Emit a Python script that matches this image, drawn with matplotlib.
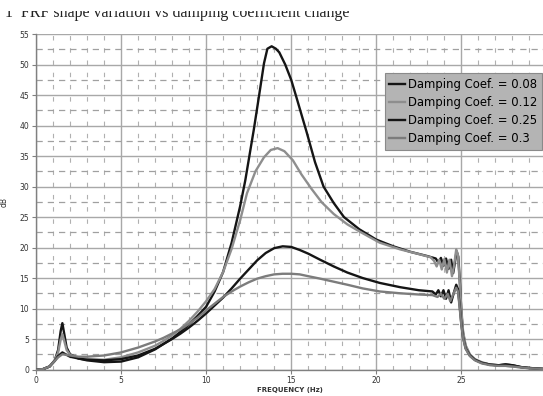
import matplotlib
matplotlib.use('agg')
import matplotlib.pyplot as plt
from matplotlib.patches import Rectangle
from matplotlib.ticker import MultipleLocator

# FRF data #############################################################

freq_008 = [0, 0.4, 0.8, 1.1, 1.3, 1.45, 1.55, 1.65, 1.8, 2.0, 2.5, 3, 4, 5, 6, 7, 7.5, 8,
            8.5, 9, 9.5, 10, 10.5, 11, 11.5, 12, 12.3, 12.8, 13.1, 13.4, 13.6, 13.85, 14.1,
            14.3, 14.65, 15.0, 15.3, 15.9, 16.4, 16.9, 17.5, 18.1, 19, 20, 21, 22, 23, 23.5,
            23.65, 23.8, 23.95, 24.1, 24.25, 24.4, 24.52, 24.62, 24.72, 24.82, 24.92, 25.0,
            25.1, 25.25, 25.5, 25.8, 26.2, 26.7, 27.2, 27.6, 28.0, 28.5, 29.0, 29.8]
db_008 = [0, 0.05, 0.5, 1.5, 3.2, 6.3, 7.6, 6.0, 3.6, 2.5, 1.8, 1.5, 1.2, 1.3, 2.0, 3.3, 4.2, 5.1,
          6.2, 7.4, 8.8, 10.3, 12.8, 16.0, 20.8, 26.8, 31.0, 39.3, 44.7, 50.2, 52.6, 53.0, 52.6,
          52.0, 50.0, 47.5, 44.7, 39.0, 34.0, 30.0, 27.3, 25.0, 23.0, 21.3, 20.2, 19.3, 18.6, 18.2,
          17.5, 18.3, 17.0, 18.2, 16.5, 18.0, 15.8, 17.5, 19.4, 18.5, 14.0, 9.5,
          6.0, 3.8, 2.4, 1.6, 1.1, 0.8, 0.7, 0.8, 0.7, 0.4, 0.25, 0.1]

freq_012 = [0, 0.4, 0.8, 1.1, 1.3, 1.45, 1.55, 1.65, 1.8, 2.0, 2.5, 3, 4, 5, 6, 7, 7.5, 8,
            8.5, 9, 9.5, 10, 10.5, 11, 11.5, 12, 12.4, 12.9, 13.4, 13.8, 14.2, 14.6, 15.1,
            15.6, 16.2, 16.8, 17.5, 18.3, 19.1, 20.2, 21.4, 22.4, 23.2, 23.4, 23.55, 23.7,
            23.85, 24.0, 24.15, 24.3, 24.45, 24.57, 24.7, 24.8, 24.9, 25.0, 25.1, 25.25,
            25.5, 25.8, 26.2, 26.7, 27.2, 27.6, 28.0, 28.5, 29.0, 29.8]
db_012 = [0, 0.05, 0.5, 1.5, 2.8, 4.9, 5.8, 4.8, 3.2, 2.4, 1.9, 1.7, 1.6, 2.0, 2.8, 3.9, 4.7, 5.6,
          6.7, 8.0, 9.5, 11.2, 13.2, 16.0, 19.8, 24.5, 28.9, 32.5, 34.8, 36.0, 36.3, 35.8, 34.3,
          32.0, 29.6, 27.4, 25.5, 23.8, 22.5, 20.8, 19.7, 19.0, 18.4, 17.8, 16.9, 18.0,
          16.4, 18.1, 15.9, 18.0, 15.3, 17.0, 19.7, 18.8, 14.5, 10.0, 6.3, 4.0,
          2.5, 1.7, 1.2, 0.8, 0.6, 0.6, 0.5, 0.35, 0.2, 0.1]

freq_025 = [0, 0.4, 0.8, 1.1, 1.3, 1.55, 1.8, 2.0, 2.5, 3, 4, 5, 6, 7, 7.5, 8, 8.5, 9, 9.5,
            10, 10.5, 11, 11.5, 12, 12.5, 13, 13.5, 14, 14.5, 15, 15.5, 16, 16.7, 17.5, 18.3,
            19.2, 20.2, 21.4, 22.5, 23.3, 23.5, 23.65, 23.8, 23.95, 24.1, 24.25, 24.4, 24.55,
            24.7, 24.8, 24.9, 25.0, 25.1, 25.25, 25.5, 25.8, 26.2, 26.7, 27.2, 27.6, 28.0,
            28.5, 29.0, 29.8]
db_025 = [0, 0.05, 0.5, 1.4, 2.2, 2.8, 2.4, 2.1, 1.8, 1.6, 1.5, 1.7, 2.3, 3.4, 4.2, 5.0, 5.9, 6.9, 8.0,
          9.2, 10.5, 11.8, 13.3, 14.9, 16.4, 17.9, 19.1, 19.9, 20.2, 20.1, 19.6, 19.0, 18.0, 16.9, 15.9,
          15.0, 14.2, 13.5, 13.0, 12.8, 12.3, 13.0, 12.0, 13.0, 11.6, 13.0, 11.0, 12.5,
          13.9, 13.2, 10.5, 7.5, 5.3, 3.5, 2.3, 1.6, 1.1, 0.8, 0.7, 0.85, 0.7,
          0.4, 0.25, 0.1]

freq_030 = [0, 0.4, 0.8, 1.1, 1.3, 1.55, 1.8, 2.0, 2.5, 3, 4, 5, 6, 7, 7.5, 8, 8.5, 9, 9.5,
            10, 10.5, 11, 11.5, 12, 12.5, 13, 13.5, 14, 14.5, 15, 15.5, 16, 16.7, 17.5, 18.3,
            19.2, 20.2, 21.4, 22.5, 23.3, 23.6, 23.8, 24.0, 24.2, 24.35, 24.5, 24.7, 24.8,
            24.9, 25.0, 25.1, 25.25, 25.5, 25.8, 26.2, 26.7, 27.2, 27.6, 28.0, 28.5, 29.0, 29.8]
db_030 = [0, 0.05, 0.5, 1.4, 2.0, 2.5, 2.4, 2.3, 2.1, 2.1, 2.3, 2.8, 3.6, 4.6, 5.2, 5.9, 6.6, 7.5, 8.5,
          9.7, 10.8, 11.9, 12.8, 13.6, 14.3, 14.9, 15.3, 15.6, 15.7, 15.7, 15.6, 15.3, 14.9, 14.4, 13.9,
          13.3, 12.8, 12.5, 12.3, 12.2, 11.9, 12.4, 11.6, 12.4, 11.2, 12.2, 13.4, 12.8,
          10.2, 7.3, 5.2, 3.4, 2.2, 1.5, 1.0, 0.7, 0.6, 0.6, 0.5, 0.35, 0.2, 0.1]

series = [
    (freq_008, db_008, 'Damping Coef. = 0.08', '#151515'),
    (freq_012, db_012, 'Damping Coef. = 0.12', '#8e8e8e'),
    (freq_025, db_025, 'Damping Coef. = 0.25', '#151515'),
    (freq_030, db_030, 'Damping Coef. = 0.3', '#7c7c7c'),
]

# FIGURE ###############################################################

fig = plt.figure(figsize=(5.43, 3.96), dpi=100)
ax = fig.add_axes([0.0663, 0.0669, 0.9337, 0.847])

for f, v, label, color in series:
    ax.plot(f, v, color=color, lw=1.7, label=label, zorder=3)

ax.set_xlim(0, 29.8)
ax.set_ylim(0, 55)
ax.xaxis.set_major_locator(MultipleLocator(5))
ax.xaxis.set_minor_locator(MultipleLocator(1))
ax.yaxis.set_major_locator(MultipleLocator(5))
ax.yaxis.set_minor_locator(MultipleLocator(2.5))

ax.grid(which='major', color='#a8a8a8', lw=1.0, ls='-', zorder=1)
ax.grid(which='minor', axis='y', color='#a0a0a0', lw=0.9, ls=(0, (5, 4)), zorder=1)
ax.grid(which='minor', axis='x', color='#b0b0b0', lw=0.8, ls=(0, (4, 7)), zorder=1)

for side in ('top', 'right'):
    ax.spines[side].set_visible(False)
for side in ('left', 'bottom'):
    ax.spines[side].set_color('#808080')
    ax.spines[side].set_linewidth(1.0)

ax.tick_params(which='major', length=3, width=0.8, color='#808080',
               labelsize=5.5, labelcolor='#333333', pad=2)
ax.tick_params(which='minor', length=0)

ax.set_xlabel('FREQUENCY (Hz)', fontsize=5, fontweight='bold', color='#333333', labelpad=1)
ax.set_ylabel('dB', fontsize=5.5, color='#333333', labelpad=8)

leg = ax.legend(loc='upper left', bbox_to_anchor=(0.688, 0.884), borderaxespad=0,
                fontsize=8.4, frameon=True, fancybox=False, handlelength=1.3,
                handletextpad=0.3, borderpad=0.4, labelspacing=0.45)
leg.get_frame().set_facecolor('#b4b4b4')
leg.get_frame().set_edgecolor('#8a8a8a')
leg.get_frame().set_alpha(1)
leg.get_frame().set_linewidth(0.8)

# caption that is cut at the top edge of the page crop
fig.text(0.009, 0.957, '1  FRF shape variation vs damping coefficient change',
         family='Liberation Serif', fontsize=11.5, color='#222222', va='baseline')
fig.patches.append(Rectangle((0, 0.972), 1, 0.03, transform=fig.transFigure,
                             facecolor='white', edgecolor='none', zorder=10))

plt.savefig('out.png', dpi=100)
